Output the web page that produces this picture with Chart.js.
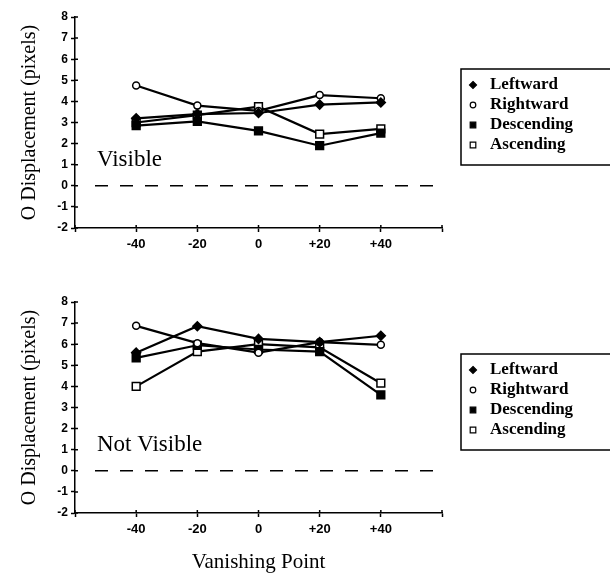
<!DOCTYPE html>
<html>
<head>
<meta charset="utf-8">
<script src="https://cdn.jsdelivr.net/npm/chart.js@4.4.0/dist/chart.umd.min.js"></script>
<style>
  body { margin: 0; background: #fff; }
  .panel { position: absolute; left: 0; width: 610px; }
</style>
</head>
<body>
<div class="panel" style="top:0;height:260px"><canvas id="visibleChart"></canvas></div>
<div class="panel" style="top:285px;height:292px"><canvas id="hiddenChart"></canvas></div>
<script>
// data
var vanishingPoints = [-40, -20, 0, 20, 40];
var xTickLabels = ['-40', '-20', '0', '+20', '+40'];
var seriesNames = ['Leftward', 'Rightward', 'Descending', 'Ascending'];
var panelNames = ['Visible', 'Not Visible'];

var visibleLeftward = [3.2, 3.4, 3.45, 3.85, 3.95];
var visibleRightward = [4.75, 3.8, 3.55, 4.3, 4.15];
var visibleDescending = [2.85, 3.05, 2.6, 1.9, 2.5];
var visibleAscending = [3.0, 3.35, 3.75, 2.45, 2.7];

var hiddenLeftward = [5.6, 6.85, 6.25, 6.1, 6.4];
var hiddenRightward = [6.87, 6.05, 5.6, 6.1, 5.97];
var hiddenDescending = [5.35, 5.95, 5.75, 5.65, 3.6];
var hiddenAscending = [4.0, 5.65, 6.0, 5.85, 4.15];

// marker look per series
var markerStyles = ['rectRot', 'circle', 'rect', 'rect'];
var markerFills = ['#000', '#fff', '#000', '#fff'];
var markerRadius = [4.5, 3.5, 5.5, 5.5];

var serif = '"Liberation Serif", "Times New Roman", serif';
var sans = '"Liberation Sans", Arial, sans-serif';

function drawMarker(ctx, style, fill, x, y, r) {
  ctx.beginPath();
  if (style == 'circle') {
    ctx.arc(x, y, r, 0, Math.PI * 2);
  } else if (style == 'rectRot') {
    ctx.moveTo(x, y - r); ctx.lineTo(x + r, y); ctx.lineTo(x, y + r); ctx.lineTo(x - r, y);
    ctx.closePath();
  } else {
    ctx.rect(x - r, y - r, r * 2, r * 2);
  }
  ctx.fillStyle = fill;
  ctx.fill();
  ctx.stroke();
}

//zero line, inner tick stubs, panel name, boxed legend
var paperPlugin = {
  id: 'paper',
  beforeDatasetsDraw: function(chart) {
    var ca = chart.chartArea, ctx = chart.ctx;
    var y0 = chart.scales.y.getPixelForValue(0);
    ctx.save();
    ctx.strokeStyle = '#000';
    ctx.lineWidth = 1.5;
    ctx.setLineDash([13, 12]);
    ctx.beginPath();
    ctx.moveTo(ca.left + 20, y0);
    ctx.lineTo(ca.right - 7, y0);
    ctx.stroke();
    ctx.restore();
  },
  afterDraw: function(chart, args, opts) {
    var ca = chart.chartArea, ctx = chart.ctx;
    var xs = chart.scales.x, ys = chart.scales.y;
    ctx.save();
    ctx.strokeStyle = '#000';
    ctx.lineWidth = 1.5;
    ctx.beginPath();
    ys.ticks.forEach(function(t) {
      var py = ys.getPixelForValue(t.value);
      ctx.moveTo(ca.left, py); ctx.lineTo(ca.left + 3, py);
    });
    xs.ticks.forEach(function(t) {
      var px = xs.getPixelForValue(t.value);
      ctx.moveTo(px, ca.bottom); ctx.lineTo(px, ca.bottom - 3);
    });
    ctx.stroke();

    ctx.fillStyle = '#000';
    ctx.font = '23px ' + serif;
    ctx.textBaseline = 'middle';
    ctx.fillText(opts.panel, ca.left + 22, ca.top + 143);

    var boxLeft = ca.right + 19, boxTop = ca.top + 52, rowGap = 20;
    ctx.beginPath();
    ctx.moveTo(chart.width + 2, boxTop);
    ctx.lineTo(boxLeft, boxTop);
    ctx.lineTo(boxLeft, boxTop + 96);
    ctx.lineTo(chart.width + 2, boxTop + 96);
    ctx.stroke();

    ctx.lineWidth = 1.2;
    ctx.font = 'bold 17px ' + serif;
    chart.data.datasets.forEach(function(ds, i) {
      var y = boxTop + 16 + i * rowGap;
      drawMarker(ctx, markerStyles[i], markerFills[i], boxLeft + 12, y, i == 0 ? 3.5 : 2.8);
      ctx.fillStyle = '#000';
      ctx.fillText(ds.label, boxLeft + 29, y);
    });
    ctx.restore();
  }
};

function makeChart(id, panel, series, bottomTitle) {
  var datasets = seriesNames.map(function(name, i) {
    return {
      label: name,
      data: vanishingPoints.map(function(x, j) { return {x: x, y: series[i][j]}; }),
      borderColor: '#000',
      borderWidth: 2.2,
      tension: 0,
      pointStyle: markerStyles[i],
      pointRadius: markerRadius[i],
      pointBackgroundColor: markerFills[i],
      pointBorderColor: '#000',
      pointBorderWidth: 1.5
    };
  });

  return new Chart(document.getElementById(id), {
    type: 'line',
    data: {datasets: datasets},
    options: {
      responsive: true,
      maintainAspectRatio: false,
      animation: false,
      layout: {padding: {top: 17, right: 168, left: 0, bottom: 0}},
      plugins: {legend: {display: false}, tooltip: {enabled: false}, paper: {panel: panel}},
      scales: {
        x: {
          type: 'linear', min: -60, max: 60,
          ticks: {
            stepSize: 20, autoSkip: false, maxRotation: 0, padding: 5, color: '#000',
            font: {family: sans, weight: 'bold', size: 13},
            callback: function(v) {
              var i = vanishingPoints.indexOf(v);
              return i < 0 ? '' : xTickLabels[i];
            }
          },
          grid: {drawOnChartArea: false, tickLength: 4, tickColor: '#000', tickWidth: 1.5},
          border: {color: '#000', width: 1.5},
          title: {display: bottomTitle, text: 'Vanishing Point', color: '#000',
                  font: {family: serif, size: 21}, padding: {top: 0, bottom: 2}},
          afterFit: function(s) { s.height = bottomTitle ? 64 : 32; s.paddingLeft = 0; s.paddingRight = 0; }
        },
        y: {
          min: -2, max: 8,
          ticks: {stepSize: 1, padding: 3, color: '#000', font: {family: sans, weight: 'bold', size: 12}},
          grid: {drawOnChartArea: false, tickLength: 4, tickColor: '#000', tickWidth: 1.5},
          border: {color: '#000', width: 1.5},
          title: {display: true, text: 'O Displacement (pixels)', color: '#000',
                  font: {family: serif, size: 20}, padding: {top: 18, bottom: 0}},
          afterFit: function(s) { s.width = 75; s.paddingTop = 0; s.paddingBottom = 0; }
        }
      }
    },
    plugins: [paperPlugin]
  });
}

makeChart('visibleChart', panelNames[0],
  [visibleLeftward, visibleRightward, visibleDescending, visibleAscending], false);
makeChart('hiddenChart', panelNames[1],
  [hiddenLeftward, hiddenRightward, hiddenDescending, hiddenAscending], true);
</script>
</body>
</html>
